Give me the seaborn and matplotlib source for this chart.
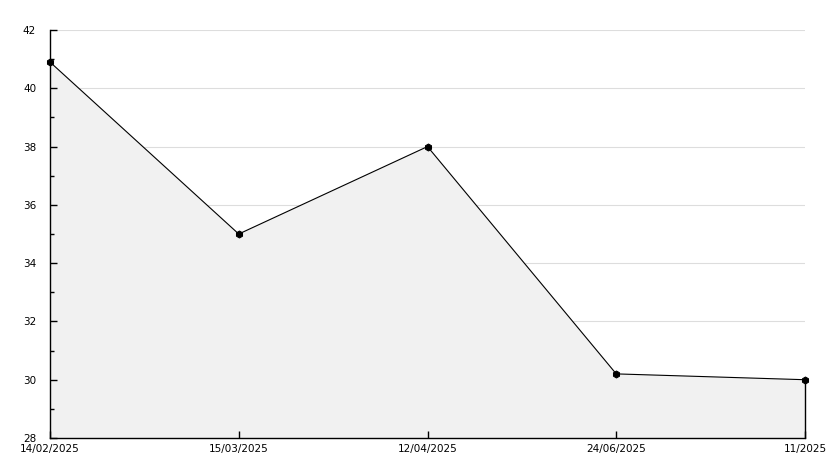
import matplotlib
matplotlib.use("Agg")
import matplotlib.pyplot as plt
import seaborn as sns
import numpy as np

# dados
datas = ["14/02/2025", "15/03/2025", "12/04/2025", "24/06/2025", "11/2025"]
valores = [40.9, 35.0, 38.0, 30.2, 30.0]

sns.set_style("white")
plt.rcParams["font.family"] = ["DejaVu Sans"]
plt.rcParams["text.color"] = "black"
plt.rcParams["xtick.color"] = "black"
plt.rcParams["ytick.color"] = "black"

fig = plt.figure(figsize=(8.34, 4.68), dpi=100)
ax = fig.add_axes([50 / 834, 1 - 438 / 468, (805 - 50) / 834, (438 - 30) / 468])
ax.set_axisbelow(False)

pos = np.arange(len(datas))
ax.fill_between(pos, valores, 28, facecolor="#f1f1f1", edgecolor="none", zorder=1)
ax.plot([pos[-1], pos[-1]], [28, valores[-1]], color="black", lw=1.0,
        zorder=2, clip_on=False)
sns.lineplot(x=pos, y=valores, ax=ax, color="black", lw=0.8, marker="h",
             markersize=5, markeredgecolor="black", zorder=3, clip_on=False)

ax.set_xlim(0, len(datas) - 1)
ax.set_ylim(28, 42)
ax.set_yticks(range(28, 43, 2))
ax.set_yticks(range(29, 42, 2), minor=True)
ax.set_xticks(pos)
ax.set_xticklabels(datas)

for y in range(30, 43, 2):
    ax.axhline(y, color="#dddddd", lw=0.8, zorder=0.5)

sns.despine(ax=ax, top=True, right=True)
for lado in ["left", "bottom"]:
    ax.spines[lado].set_color("black")
    ax.spines[lado].set_linewidth(1.0)
    ax.spines[lado].set_zorder(4)

ax.tick_params(axis="y", which="major", direction="in", length=5, width=1,
               labelsize=7.5, pad=10, left=True, colors="black")
ax.tick_params(axis="y", which="minor", direction="in", length=3, width=1,
               left=True, colors="black")
ax.tick_params(axis="x", which="major", direction="in", length=5, width=1,
               labelsize=7.5, pad=4, bottom=True, colors="black")
ax.set_xlabel("")
ax.set_ylabel("")

fig.savefig("out.png", dpi=100)
